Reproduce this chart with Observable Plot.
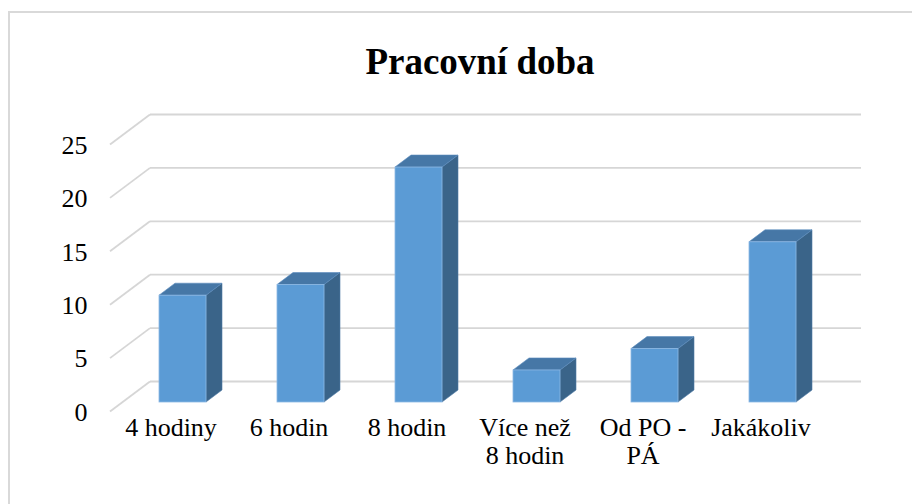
<!DOCTYPE html>
<html>
<head>
<meta charset="utf-8">
<script src="https://cdn.jsdelivr.net/npm/d3@7"></script>
<script src="https://cdn.jsdelivr.net/npm/@observablehq/plot@0.6"></script>
<style>
  html, body { margin: 0; padding: 0; background: #fff; }
  #wrap { position: relative; width: 912px; height: 504px; overflow: hidden; }
  #frame { position: absolute; left: 8px; top: 11px; width: 1000px; height: 1000px;
           border-top: 2px solid #d9d9d9; border-left: 2px solid #d9d9d9; box-sizing: border-box; }
  #chart { position: absolute; left: 0; top: 0; }
</style>
</head>
<body>
<div id="wrap"><div id="frame"></div><div id="chart"></div></div>
<script>
// ---- data ----
const categories = ["4 hodiny", "6 hodin", "8 hodin", "Více než 8 hodin", "Od PO - PÁ", "Jakákoliv"];
const tickLabels = ["4 hodiny", "6 hodin", "8 hodin", "Více než\n8 hodin", "Od PO -\nPÁ", "Jakákoliv"];
const values = [10, 11, 22, 3, 5, 15];
const yTicks = [0, 5, 10, 15, 20, 25];
const titleText = "Pracovní doba";

const data = categories.map((c, i) => ({cat: c, value: values[i]}));
const labelOf = new Map(categories.map((c, i) => [c, tickLabels[i]]));

// 3D geometry (pixels)
const DEPTH_DX = 40, DEPTH_DY = 30;          // floor depth
const FRONT_DX = -28, FRONT_DY = 21;        // bar front face offset from back wall
const BAR_DX = 16, BAR_DY = 12;             // bar depth
const FONT = "Liberation Serif";

function bw(scales) {
  const s = scales.x;
  if (s && typeof s.bandwidth === "function") return s.bandwidth();
  return scales.scales.x.bandwidth;
}

// gridlines with the diagonal floor edges
const grid = Plot.ruleY(yTicks, {
  stroke: "#d6d6d6", strokeWidth: 1.8,
  render(index, scales, values, dimensions, context, next) {
    const g = next(index, scales, values, dimensions, context);
    const x0 = dimensions.marginLeft;
    const sel = d3.select(g);
    for (const i of index) {
      const y = scales.y(yTicks[i]);
      sel.append("line")
        .attr("x1", x0 - DEPTH_DX).attr("y1", y + DEPTH_DY)
        .attr("x2", x0).attr("y2", y)
        .attr("stroke", "#d6d6d6").attr("stroke-width", 1.8);
    }
    return g;
  }
});

// 3D bars
const bars = Plot.barY(data, {
  x: "cat", y: "value", fill: "#5B9BD5",
  stroke: "#8DB8E4", strokeWidth: 0.8,
  dx: FRONT_DX, dy: FRONT_DY,
  render(index, scales, values, dimensions, context, next) {
    const w = bw(scales);
    const g = d3.create("svg:g");
    for (const i of index) {
      const d = data[i];
      const xl = scales.x(d.cat) + FRONT_DX;
      const xr = xl + w;
      const yt = scales.y(d.value) + FRONT_DY;
      const yb = scales.y(0) + FRONT_DY;
      // side face
      g.append("polygon")
        .attr("points", [[xr, yt], [xr + BAR_DX, yt - BAR_DY], [xr + BAR_DX, yb - BAR_DY], [xr, yb]].join(" "))
        .attr("fill", "#3A6489").attr("stroke", "#4d7aa6").attr("stroke-width", 0.6);
      // top face
      g.append("polygon")
        .attr("points", [[xl, yt], [xl + BAR_DX, yt - BAR_DY], [xr + BAR_DX, yt - BAR_DY], [xr, yt]].join(" "))
        .attr("fill", "#4677A6").attr("stroke", "#5a8cbd").attr("stroke-width", 0.6);
    }
    const front = next(index, scales, values, dimensions, context);
    g.node().appendChild(front);
    return g.node();
  }
});

const plot = Plot.plot({
  width: 912,
  height: 504,
  marginLeft: 150,
  marginRight: 51,
  marginTop: 114,
  marginBottom: 123,
  style: {background: "transparent", fontFamily: FONT},
  x: {domain: categories, paddingInner: 0.6, paddingOuter: 0.3, align: 0.5},
  y: {domain: [0, 25]},
  marks: [
    grid,
    bars,
    Plot.axisY(yTicks, {
      tickSize: 0, tickPadding: 63, dy: 31,
      fontSize: 26, fill: "#000", label: null
    }),
    Plot.axisX({
      tickSize: 0, tickPadding: 34, dx: -DEPTH_DX,
      fontSize: 26, fill: "#000", label: null,
      lineHeight: 1.1,
      tickFormat: (c) => labelOf.get(c)
    }),
    Plot.text([titleText], {
      frameAnchor: "top", dy: -52, dx: -26,
      fontSize: 37, fontWeight: "bold", fill: "#000",
      lineAnchor: "middle"
    })
  ]
});
// force serif font everywhere
plot.style.fontFamily = "'Liberation Serif', serif";
plot.querySelectorAll("g, text, tspan").forEach((el) => {
  el.removeAttribute("font-family");
  el.style.fontFamily = "'Liberation Serif', serif";
  el.style.fontVariant = "normal";
});
document.getElementById("chart").appendChild(plot);
</script>
</body>
</html>
